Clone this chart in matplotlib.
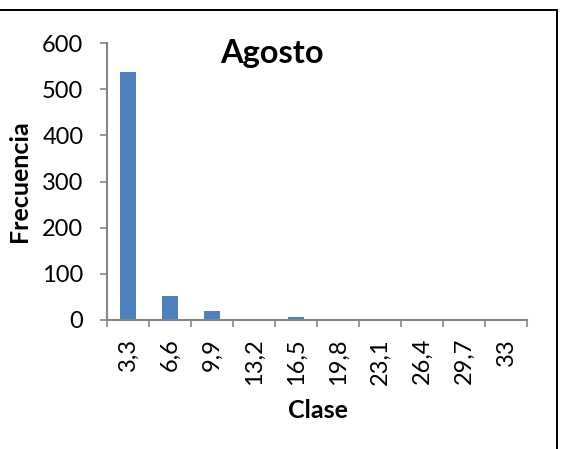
import matplotlib
matplotlib.use("Agg")
import matplotlib.pyplot as plt
from matplotlib.lines import Line2D

plt.rcParams['font.family'] = ['Lato', 'DejaVu Sans']

clases = ["3,3", "6,6", "9,9", "13,2", "16,5", "19,8", "23,1", "26,4", "29,7", "33"]
frecuencia = [537, 51, 20, 3, 7, 1, 0, 0, 0, 0]
titulo = "Agosto"

W, H = 571, 449
fig = plt.figure(figsize=(W / 100, H / 100), dpi=100)
fig.patch.set_facecolor("white")

ax = fig.add_axes([107 / W, 1 - 320 / H, 420 / W, 277 / H])
pos = list(range(len(clases)))
ax.bar(pos, frecuencia, width=0.4, color="#4F81BD", zorder=2)

ax.set_xlim(-0.5, len(clases) - 0.5)
ax.set_ylim(0, 600)
ax.set_yticks(range(0, 601, 100))

# major ticks at category boundaries, labels on minor ticks at centres
ax.set_xticks([p - 0.5 for p in pos] + [len(clases) - 0.5])
ax.set_xticklabels([])
ax.set_xticks(pos, minor=True)
ax.set_xticklabels(clases, minor=True, rotation=90, fontsize=17)
ax.tick_params(axis="x", which="minor", length=0, pad=13)
ax.tick_params(axis="x", which="major", length=5, width=1.2, color="#868686")
ax.tick_params(axis="y", length=5, width=1.2, color="#868686", pad=12, labelsize=17)

for side in ("top", "right"):
    ax.spines[side].set_visible(False)
for side in ("left", "bottom"):
    ax.spines[side].set_color("#868686")
    ax.spines[side].set_linewidth(1.5)

fig.text(271.5 / W, 1 - 63 / H, titulo, ha="center", va="baseline",
         fontsize=23.5, fontweight="bold")
fig.text(20 / W, 1 - 181.5 / H, "Frecuencia", rotation=90, ha="center",
         va="center", fontsize=18, fontweight="bold")
fig.text(318 / W, 1 - 410 / H, "Clase", ha="center", va="center",
         fontsize=18, fontweight="bold")

# chart frame (top and right edges)
fig.add_artist(Line2D([0, 556.5 / W], [1 - 9.5 / H, 1 - 9.5 / H],
                      transform=fig.transFigure, color="black", lw=1.4))
fig.add_artist(Line2D([556.5 / W, 556.5 / W], [1 - 9.5 / H, 0],
                      transform=fig.transFigure, color="black", lw=1.4))

fig.savefig("out.png", dpi=100)
